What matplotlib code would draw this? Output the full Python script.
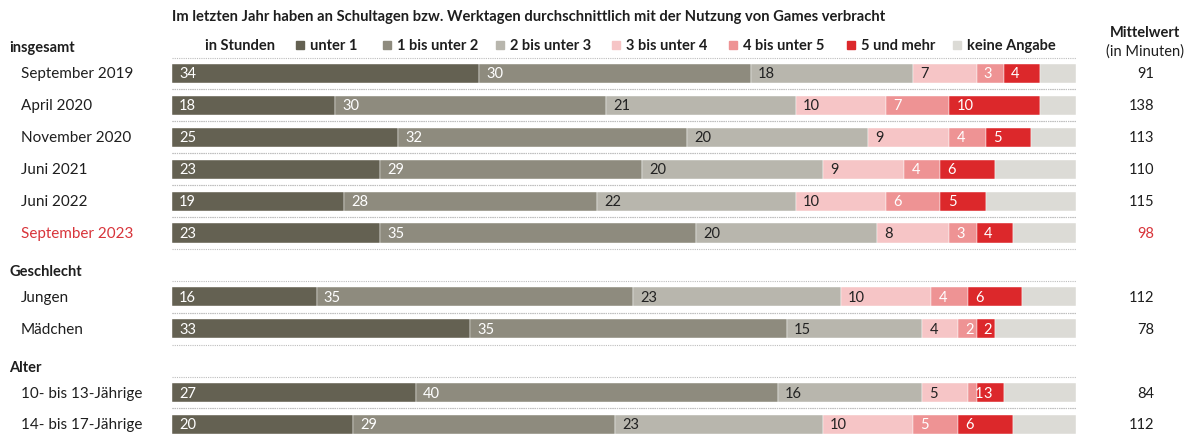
import numpy as np
import matplotlib.pyplot as plt
import matplotlib.transforms as mtransforms
from matplotlib.patches import Rectangle

plt.rcParams["font.family"] = ["Lato", "DejaVu Sans"]

# data
categories = ["unter 1", "1 bis unter 2", "2 bis unter 3", "3 bis unter 4",
              "4 bis unter 5", "5 und mehr", "keine Angabe"]
colors = ["#646152", "#8e8b7e", "#b8b6ad", "#f6c5c6", "#ee9394", "#dc282b", "#dcdbd6"]
label_colors = ["white", "white", "#222222", "#222222", "white", "white", None]

row_labels = ["September 2019", "April 2020", "November 2020", "Juni 2021", "Juni 2022",
              "September 2023", "Jungen", "Mädchen", "10- bis 13-Jährige", "14- bis 17-Jährige"]
unter_1 = [34, 18, 25, 23, 19, 23, 16, 33, 27, 20]
bis_2 = [30, 30, 32, 29, 28, 35, 35, 35, 40, 29]
bis_3 = [18, 21, 20, 20, 22, 20, 23, 15, 16, 23]
bis_4 = [7, 10, 9, 9, 10, 8, 10, 4, 5, 10]
bis_5 = [3, 7, 4, 4, 6, 3, 4, 2, 1, 5]
mehr_5 = [4, 10, 5, 6, 5, 4, 6, 2, 3, 6]
keine = [4, 4, 5, 9, 10, 7, 6, 9, 8, 7]
mittelwert = [91, 138, 113, 110, 115, 98, 112, 78, 84, 112]

groups = ["insgesamt", "Geschlecht", "Alter"]
group_pos = [-0.83, 6.19, 9.2]
row_pos = [0, 1, 2, 3, 4, 5, 7, 8, 10, 11]
highlight = "September 2023"

series = [unter_1, bis_2, bis_3, bis_4, bis_5, mehr_5, keine]

W, H = 1189, 439
fig = plt.figure(figsize=(W / 100, H / 100), dpi=100)
ax = fig.add_axes([172 / W, 0, 904 / W, 1])
ax.set_xlim(0, 100)
ax.set_ylim(11.426, -2.335)
ax.axis("off")

dark = "#1e1e1e"
red = "#d8343a"
fs = 10.5
fs_row = 11

# dotted separators
for y in row_pos:
    ax.hlines([y - 0.5, y + 0.5], 0, 100, colors="#bdbdbd", lw=0.8,
              linestyles=(0, (1, 1)))

left = np.zeros(len(row_pos))
for vals, col, lc in zip(series, colors, label_colors):
    vals = np.array(vals, dtype=float)
    ax.barh(row_pos, vals, left=left, height=0.6, color=col,
            edgecolor="white", linewidth=0.3)
    if lc is not None:
        for y, l, v in zip(row_pos, left, vals):
            ax.text(l + 0.8, y, f"{int(v)}", color=lc, fontsize=fs,
                    va="center", ha="left")
    left += vals

tr = mtransforms.blended_transform_factory(fig.transFigure, ax.transData)
for y, lab, m in zip(row_pos, row_labels, mittelwert):
    c = red if lab == highlight else dark
    ax.text(21 / W, y, lab, transform=tr, fontsize=fs_row, color=c, va="center", ha="left")
    ax.text(1154 / W, y, str(m), transform=tr, fontsize=fs, color=c, va="center", ha="right")

for g, y in zip(groups, group_pos):
    ax.text(9 / W, y, g, transform=tr, fontsize=fs, color=dark, va="center",
            ha="left", fontweight="bold")

# title and legend row
fig.text(172 / W, 1 - 17 / H, "Im letzten Jahr haben an Schultagen bzw. Werktagen "
         "durchschnittlich mit der Nutzung von Games verbracht",
         fontsize=10.65, fontweight="bold", color=dark, va="center", ha="left")
fig.text(205 / W, 1 - 46 / H, "in Stunden", fontsize=fs, fontweight="bold",
         color=dark, va="center", ha="left")
legend_x = [296, 383, 496, 612, 729, 847, 953]
for x, cat, col in zip(legend_x, categories, colors):
    fig.patches.append(Rectangle((x / W, 1 - 50 / H), 8 / W, 8 / H,
                                 transform=fig.transFigure, color=col))
    fig.text((x + 14) / W, 1 - 46 / H, cat, fontsize=fs, fontweight="bold",
             color=dark, va="center", ha="left")

fig.text(1145 / W, 1 - 33 / H, "Mittelwert", fontsize=fs, fontweight="bold",
         color=dark, va="center", ha="center")
fig.text(1145 / W, 1 - 52 / H, "(in Minuten)", fontsize=fs, color=dark,
         va="center", ha="center")

fig.savefig("out.png", dpi=100)
